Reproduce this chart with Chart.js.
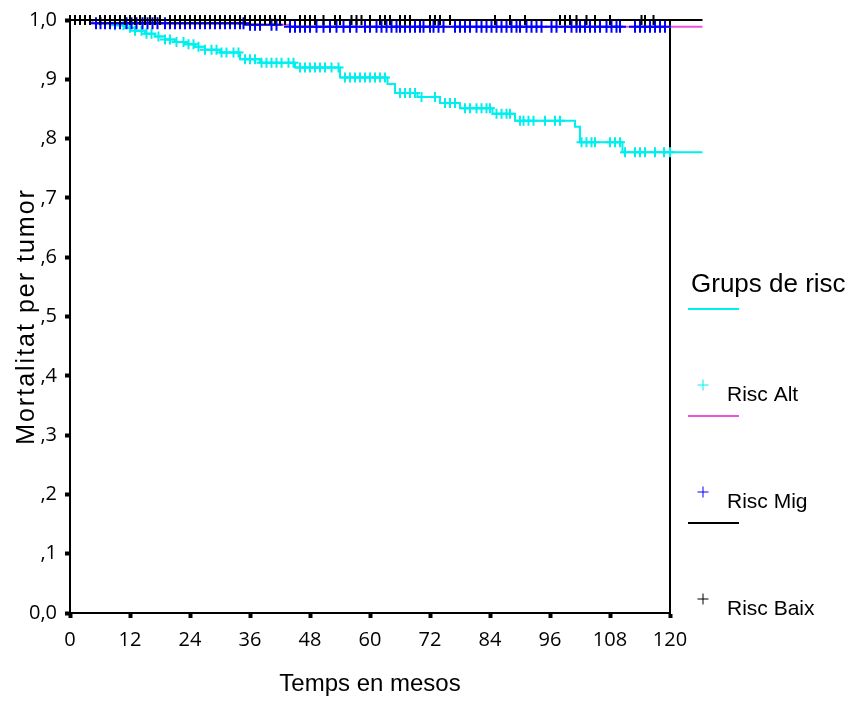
<!DOCTYPE html>
<html lang="ca">
<head>
<meta charset="UTF-8">
<title>Mortalitat per tumor</title>
<script src="https://cdn.jsdelivr.net/npm/chart.js"></script>
<style>
  body { margin: 0; background: #fff; }
  canvas { display: block; }
</style>
</head>
<body>
<canvas id="kmChart" width="857" height="724"></canvas>
<script>
// ---- data ----
const xTicks = [0, 12, 24, 36, 48, 60, 72, 84, 96, 108, 120];
const yTickLabels = ['0,0', ',1', ',2', ',3', ',4', ',5', ',6', ',7', ',8', ',9', '1,0'];
const groupNames = ['Risc Alt', 'Risc Mig', 'Risc Baix'];
const lastTime = 126.5; // curves run a little past the last tick

// Risc Alt: event times (months) and survival after each event
const altTimes = [0, 7, 9, 11, 13, 15, 17, 19, 21, 23, 25, 27, 30, 34, 38, 45, 54, 63.5, 65, 69.5, 74, 78, 84.5, 89, 101, 102, 110.5];
const altSurv = [1.0, 0.995, 0.991, 0.987, 0.982, 0.977, 0.972, 0.967, 0.963, 0.959, 0.955, 0.950, 0.945, 0.934, 0.928, 0.920, 0.903, 0.892, 0.877, 0.870, 0.860, 0.851, 0.842, 0.830, 0.820, 0.794, 0.777];
const altCensored = [9, 10.7, 12, 13, 14.3, 15.3, 16.3, 17.7, 19, 20, 21.3, 22.7, 23.7, 24.7, 25.7, 27, 28.3, 29.3, 30.3, 31.3, 32.7, 33.7, 35, 36, 37,
  38.3, 39.3, 40.3, 41.3, 42.3, 43.7, 44.7, 46, 47, 48, 49, 50, 51, 52.3, 53.7, 55, 56, 57, 58, 59, 60, 61, 62, 63,
  66, 67, 68, 69, 70.3, 73, 75, 76, 77, 79, 80, 81.3, 82.3, 83.3, 84, 85.3, 86.3, 87.3, 88, 90, 90.7, 91.7, 92.7, 95, 97, 98,
  102.3, 103.3, 104.3, 105, 108, 109, 110, 111, 113, 114, 115, 117, 118.8, 120];

// Risc Mig
const migTimes = [0, 4.5, 36, 44];
const migSurv = [1.0, 0.9945, 0.992, 0.9888];
const migCensored = [5.2, 6.1, 7, 8, 9, 10, 11.3, 12.3, 13.3, 14.5, 15.5, 16.5, 17.5, 19, 20, 21, 22, 23, 24, 25, 26, 27, 28, 29, 30, 31, 32, 33,
  34, 34.7, 36, 37, 38, 40.3, 41.3, 44, 45, 46, 47, 48, 49.3, 50.7, 52, 53.3, 54.7,
  56, 57.3, 59, 60, 61.3, 62.3, 63.3, 64.3, 65.3, 66, 67, 68, 69, 70, 70.7, 72, 72.7, 73.7, 74.7, 77, 78, 79, 80, 81.3, 82.3, 83.3, 84.3,
  85.3, 86.3, 87.3, 88.3, 89.3, 90, 91.3, 92.3, 93.3, 94.3, 96.3, 97.3, 99, 100.3, 101.3, 102, 103, 104, 105, 106, 107.3, 108.3, 109.3,
  110, 113, 114, 115, 116, 117, 118, 119];

// Risc Baix: no events
const baixTimes = [0];
const baixSurv = [1.0];
const baixCensored = [0, 1, 2, 3, 4, 6, 7, 8, 9, 10, 11, 12, 13, 14, 15, 16, 17, 18, 20, 21, 22, 23, 24, 25, 26, 27, 28, 29, 30, 31, 32, 33,
  34, 35, 36, 37, 38, 39, 40, 41, 42, 43, 46, 47, 48, 49, 50.7, 53, 54, 56.3, 57.3, 58.3, 60, 62, 63, 64, 66, 67, 68, 72, 73, 74, 76,
  85, 88, 91, 98, 99, 100, 101.3, 103.3, 105, 108, 114.3, 115, 116.7];

// ---- helpers ----
function stepValue(times, surv, t) {
  let v = surv[0];
  for (let i = 0; i < times.length; i++) {
    if (times[i] <= t) v = surv[i];
  }
  return v;
}
function curvePoints(times, surv) {
  const pts = times.map((t, i) => ({ x: t, y: surv[i] }));
  pts.push({ x: lastTime, y: surv[surv.length - 1] });
  return pts;
}
function censorPoints(times, surv, cens) {
  return cens.map(t => ({ x: t, y: stepValue(times, surv, t) }));
}

const CYAN = '#00f0f0';
const MAGENTA = '#f050e0';
const BLUE = '#0000ff';
const BLACK = '#000000';

function lineSet(label, pts, color, order) {
  // 'before' = horizontal first, then drop (Kaplan-Meier step)
  return {
    label: label, data: pts, showLine: true, stepped: 'before',
    borderColor: color, borderWidth: 2, pointRadius: 0, clip: false, order: order
  };
}
function crossSet(label, pts, color, radius, order) {
  return {
    label: label, data: pts, showLine: false, pointStyle: 'cross',
    pointRadius: radius, pointHoverRadius: radius, borderColor: color, backgroundColor: color,
    borderWidth: 2, clip: false, order: order
  };
}

// legend drawn to look like the SPSS one
const riskLegend = {
  id: 'riskLegend',
  afterLayout(chart) {
    // the y title in the picture is spaced out a bit
    const sc = chart.scales.y;
    if (sc && !sc._spaced) {
      const orig = sc.drawTitle;
      sc.drawTitle = function () {
        this.ctx.save();
        this.ctx.letterSpacing = '2px';
        orig.call(this);
        this.ctx.restore();
      };
      sc._spaced = true;
    }
  },
  afterDraw(chart) {
    const ctx = chart.ctx;
    ctx.save();
    ctx.fillStyle = '#000';
    ctx.textBaseline = 'alphabetic';
    ctx.font = "26px 'Liberation Sans', Arial, sans-serif";
    ctx.fillText('Grups de risc', 691, 292);

    const lineColors = [CYAN, MAGENTA, BLACK];
    const crossColors = [CYAN, BLUE, BLACK];
    for (let i = 0; i < groupNames.length; i++) {
      const top = 309 + i * 107;
      ctx.strokeStyle = lineColors[i];
      ctx.lineWidth = 2;
      ctx.beginPath();
      ctx.moveTo(688, top);
      ctx.lineTo(739, top);
      ctx.stroke();

      const cy = top + 76;
      ctx.strokeStyle = crossColors[i];
      ctx.lineWidth = 1;
      ctx.beginPath();
      ctx.moveTo(697.5, cy); ctx.lineTo(708.5, cy);
      ctx.moveTo(703, cy - 5.5); ctx.lineTo(703, cy + 5.5);
      ctx.stroke();

      ctx.fillStyle = '#000';
      ctx.font = "21px 'Liberation Sans', Arial, sans-serif";
      ctx.fillText(groupNames[i], 727, cy + 16);
    }
    ctx.restore();
  }
};

const tickFont = { family: "'Open Sans', sans-serif", size: 20 };
const titleFont = { family: "'Liberation Sans', Arial, sans-serif", size: 24 };
const tickGrid = { drawOnChartArea: false, drawTicks: true, tickLength: 5, tickWidth: 4, tickColor: '#000' };

const ctx = document.getElementById('kmChart').getContext('2d');
new Chart(ctx, {
  type: 'scatter',
  data: {
    datasets: [
      crossSet('Risc Baix censurat', censorPoints(baixTimes, baixSurv, baixCensored), BLACK, 5, 1),
      lineSet('Risc Baix', curvePoints(baixTimes, baixSurv), BLACK, 2),
      crossSet('Risc Mig censurat', censorPoints(migTimes, migSurv, migCensored), BLUE, 6, 3),
      lineSet('Risc Mig', curvePoints(migTimes, migSurv), MAGENTA, 4),
      crossSet('Risc Alt censurat', censorPoints(altTimes, altSurv, altCensored), CYAN, 5, 5),
      lineSet('Risc Alt', curvePoints(altTimes, altSurv), CYAN, 6)
    ]
  },
  options: {
    responsive: false,
    animation: false,
    layout: { padding: { top: 20, right: 187, bottom: 0, left: 0 } },
    plugins: { legend: { display: false }, tooltip: { enabled: false } },
    scales: {
      x: {
        type: 'linear', min: 0, max: 120,
        afterBuildTicks: s => { s.ticks = xTicks.map(v => ({ value: v })); },
        afterFit: s => { s.height = 111; s.paddingLeft = 0; s.paddingRight = 0; },
        ticks: { font: tickFont, color: '#000', padding: 10, maxRotation: 0, autoSkip: false },
        grid: tickGrid,
        border: { display: true, color: '#000', width: 2 },
        title: { display: true, text: 'Temps en mesos', font: titleFont, color: '#000', padding: { top: 0, bottom: 25 } }
      },
      y: {
        min: 0, max: 1,
        afterFit: s => { s.width = 70; s.paddingTop = 0; s.paddingBottom = 0; },
        ticks: { stepSize: 0.1, font: tickFont, color: '#000', padding: 8,
          callback: v => yTickLabels[Math.round(v * 10)] },
        grid: tickGrid,
        border: { display: true, color: '#000', width: 2 },
        title: { display: true, text: 'Mortalitat per tumor', font: { family: titleFont.family, size: 25 }, color: '#000', padding: { top: 12, bottom: 0 } }
      },
      y2: {
        position: 'right', min: 0, max: 1,
        afterFit: s => { s.width = 0; s.paddingTop = 0; s.paddingBottom = 0; },
        ticks: { display: false },
        grid: { display: false, drawTicks: false },
        border: { display: true, color: '#000', width: 2 }
      }
    }
  },
  plugins: [riskLegend]
});
</script>
</body>
</html>
